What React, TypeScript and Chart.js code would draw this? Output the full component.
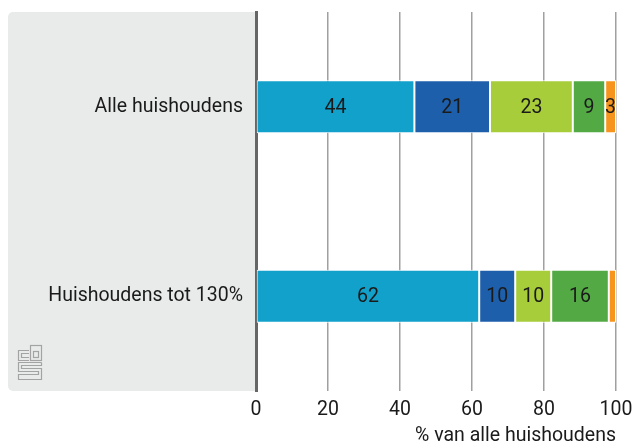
import React, { useEffect, useRef } from "react";
import { Chart, registerables } from "chart.js";

Chart.register(...registerables);

const categories = ["Alle huishoudens", "Huishoudens tot 130%"];
const seriesA = [44, 62];
const seriesB = [21, 10];
const seriesC = [23, 10];
const seriesD = [9, 16];
const seriesE = [3, 2];
const seriesColors = ["#12a1cb", "#1e5fab", "#a8cd3a", "#53aa45", "#f7941d"];
const xTicks = [0, 20, 40, 60, 80, 100];
const axisTitle = "% van alle huishoudens";

const FONT = "Roboto, sans-serif";
const FSIZE = 19.5;

const panelPlugin = {
  id: "panel",
  beforeDraw(chart: any) {
    const { ctx, chartArea } = chart;
    const x0 = 8;
    const y0 = chartArea.top;
    const x1 = chartArea.left;
    const y1 = chartArea.bottom;
    const r = 5;
    ctx.save();
    ctx.fillStyle = "#e9eaea";
    ctx.beginPath();
    ctx.moveTo(x0 + r, y0);
    ctx.lineTo(x1, y0);
    ctx.lineTo(x1, y1);
    ctx.lineTo(x0 + r, y1);
    ctx.arcTo(x0, y1, x0, y1 - r, r);
    ctx.lineTo(x0, y0 + r);
    ctx.arcTo(x0, y0, x0 + r, y0, r);
    ctx.closePath();
    ctx.fill();
    // CBS logo
    const lx = 18;
    const ly = y1 - 46;
    ctx.strokeStyle = "#a3a3a3";
    ctx.lineWidth = 1.2;
    const s = (pts: number[][]) => {
      ctx.beginPath();
      pts.forEach((p, i) => (i ? ctx.lineTo(lx + p[0], ly + p[1]) : ctx.moveTo(lx + p[0], ly + p[1])));
      ctx.stroke();
    };
    s([[11, 5.5], [0.5, 5.5], [0.5, 15.5], [11, 15.5]]);
    s([[11, 8.5], [3.5, 8.5], [3.5, 12.5], [11, 12.5]]);
    ctx.strokeRect(lx + 12.5, ly + 0.5, 11, 15);
    ctx.strokeRect(lx + 15.5, ly + 6.5, 5, 6);
    s([[23.5, 17.5], [0.5, 17.5], [0.5, 26.5], [20.5, 26.5], [20.5, 29.5], [0.5, 29.5], [0.5, 34.5], [23.5, 34.5], [23.5, 23.5], [3.5, 23.5], [3.5, 20.5], [23.5, 20.5], [23.5, 17.5]]);
    ctx.restore();
  },
};

const labelPlugin = {
  id: "valueLabels",
  afterDatasetsDraw(chart: any) {
    const { ctx } = chart;
    ctx.save();
    ctx.font = `${FSIZE}px ${FONT}`;
    ctx.fillStyle = "#1a1a1a";
    ctx.textAlign = "center";
    ctx.textBaseline = "middle";
    chart.data.datasets.forEach((ds: any, di: number) => {
      const meta = chart.getDatasetMeta(di);
      meta.data.forEach((bar: any, i: number) => {
        const v = ds.data[i];
        if (v < 3) return;
        const cx = (bar.x + bar.base) / 2;
        ctx.fillText(String(v), cx, bar.y + 1);
      });
    });
    ctx.restore();
  },
};

export default function App() {
  const ref = useRef<HTMLCanvasElement>(null);
  useEffect(() => {
    if (!ref.current) return;
    const all = [seriesA, seriesB, seriesC, seriesD, seriesE];
    const chart = new Chart(ref.current, {
      type: "bar",
      data: {
        labels: categories,
        datasets: all.map((d, i) => ({
          label: "s" + i,
          data: d,
          backgroundColor: seriesColors[i],
          borderColor: "#ffffff",
          borderWidth: 1,
          borderSkipped: false,
          barPercentage: 0.28,
          categoryPercentage: 1,
        })),
      },
      options: {
        indexAxis: "y",
        animation: false,
        responsive: false,
        maintainAspectRatio: false,
        layout: { padding: { top: 12, right: 18, left: 0, bottom: 0 } },
        plugins: { legend: { display: false }, tooltip: { enabled: false } },
        scales: {
          x: {
            stacked: true,
            min: 0,
            max: 100,
            afterBuildTicks(scale: any) {
              scale.ticks = xTicks.map((v) => ({ value: v }));
            },
            afterFit(scale: any) {
              scale.height = 56;
              scale.paddingLeft = 0;
              scale.paddingRight = 0;
            },
            grid: { color: "#a0a0a0", lineWidth: 1.5, drawTicks: false },
            border: { display: false },
            ticks: { font: { family: FONT, size: FSIZE }, color: "#1a1a1a", padding: 7 },
            title: {
              display: true,
              text: axisTitle,
              align: "end",
              font: { family: FONT, size: FSIZE },
              color: "#1a1a1a",
              padding: { top: 0, bottom: -1 },
            },
          },
          y: {
            stacked: true,
            afterFit(scale: any) {
              scale.width = 256;
              scale.paddingTop = 0;
              scale.paddingBottom = 0;
            },
            grid: { display: false, drawTicks: false },
            border: { display: true, color: "#666666", width: 3 },
            ticks: { font: { family: FONT, size: FSIZE }, color: "#1a1a1a", padding: 13 },
          },
        },
      },
      plugins: [panelPlugin, labelPlugin],
    } as any);
    return () => chart.destroy();
  }, []);
  return (
    <div style={{ position: "fixed", left: 0, top: 0, width: 634, height: 447 }}>
      <canvas ref={ref} width={634} height={447} style={{ width: 634, height: 447 }} />
    </div>
  );
}
